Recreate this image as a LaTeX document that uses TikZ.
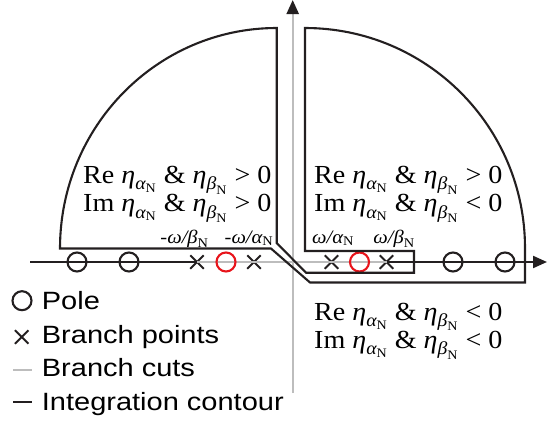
\documentclass[tikz,border=0pt]{standalone}
\usepackage{amsmath}
\usepackage{fontspec}
\setmainfont{Liberation Serif}[FakeStretch=1.08]
\setsansfont{Liberation Sans}[FakeStretch=1.16]
\usetikzlibrary{positioning, arrows.meta, shapes.misc, calc}
\definecolor{CutGray}{HTML}{BDBDBD}
\definecolor{PoleRed}{HTML}{E8141B}
\definecolor{InkBlack}{HTML}{231F20}
\newcommand{\etaA}{\text{\itshape η}_{\text{\itshape α}_{\text{N}}}}
\newcommand{\etaB}{\text{\itshape η}_{\text{\itshape β}_{\text{N}}}}
\newcommand{\bpLabel}[2]{$\text{#1\itshape ω/#2}_{\text{N}}$}

\begin{document}
\begin{tikzpicture}[x=1pt, y=-1pt,
    contour/.style={draw=InkBlack, line width=2.1pt, line join=miter},
    cutline/.style={draw=CutGray, line width=2.3pt},
    axisline/.style={draw=InkBlack, line width=2.1pt},
    pole/.style={circle, draw=InkBlack, line width=2.1pt, minimum size=19pt, inner sep=0pt},
    redpole/.style={pole, draw=PoleRed},
    branchpt/.style={cross out, draw=InkBlack, line width=2pt, minimum size=11.5pt, inner sep=0pt},
    region/.style={font=\fontsize{26}{28}\selectfont, inner sep=0pt, anchor=base west},
    bplabel/.style={font=\fontsize{19}{20}\selectfont, inner sep=0pt, anchor=base},
    legtext/.style={font=\sffamily\fontsize{25}{28}\selectfont, inner sep=0pt, anchor=base west}]
  \useasboundingbox (0,0) rectangle (547,421);
  % Axes
  \coordinate (reW) at (30,262);
  \coordinate (reE) at (547,262);
  \coordinate (imS) at (292.7,393);
  \coordinate (imN) at (292.7,0);
  \draw[cutline, -{Triangle[length=14pt, width=12pt, color=InkBlack]}] (imS) -- (imN);
  % Branch points
  \node[branchpt] (bpL2) at (197,262) {};
  \node[branchpt] (bpL1) at (254,262) {};
  \node[branchpt] (bpR1) at (331.5,262) {};
  \node[branchpt] (bpR2) at (386.5,262) {};
  \draw[axisline] (reW) -- (bpL2.center);
  \draw[cutline] (bpL2.center) -- (bpR2.center);
  \draw[axisline, -{Triangle[length=14pt, width=12pt]}] (bpR2.center) -- (reE);
  % Poles
  \node[pole] (pL2) at (77,262) {};
  \node[pole] (pL1) at (129,262) {};
  \node[pole] (pR1) at (453,262) {};
  \node[pole] (pR2) at (505,262) {};
  \node[redpole] (rpL) at (226,262) {};
  \node[redpole] (rpR) at (359.5,262) {};
  % Integration contour
  \draw[contour] (276.7,28) -- (276.7,243) -- (306,272.7) -- (414,272.7) -- (414,251)
    -- (305,251) -- (305,28) arc[start angle=90, end angle=0, radius=220pt]
    -- (525,282.5) -- (310,282.5) -- (271,248.5) -- (60,248.5)
    arc[start angle=180, end angle=90, x radius=216.7pt, y radius=220.5pt] -- cycle;
  % Branch point labels
  \node[bplabel] (lbL2) at (184.5,243) {\bpLabel{-}{β}};
  \node[bplabel] (lbL1) at (249,243) {\bpLabel{-}{α}};
  \node[bplabel] (lbR1) at (333,243) {\bpLabel{}{α}};
  \node[bplabel] (lbR2) at (394,243) {\bpLabel{}{β}};
  % Region labels
  \node[region] (reUL) at (83,183.3) {Re $\etaA$ \& $\etaB$ > 0};
  \node[region] (imUL) at (83,211.7) {Im $\etaA$ \& $\etaB$ > 0};
  \node[region] (reUR) at (314,183.3) {Re $\etaA$ \& $\etaB$ > 0};
  \node[region] (imUR) at (314,211.7) {Im $\etaA$ \& $\etaB$ < 0};
  \node[region] (reLR) at (314,320) {Re $\etaA$ \& $\etaB$ < 0};
  \node[region] (imLR) at (314,348.3) {Im $\etaA$ \& $\etaB$ < 0};
  % Legend
  \node[pole] (lgPoleSym) at (22,300.7) {};
  \node[legtext] (lgPole) at (41.7,309.3) {Pole};
  \node[branchpt] (lgBpSym) at (21.7,337) {};
  \node[legtext] (lgBp) at (41.7,343.3) {Branch points};
  \coordinate (lgCutA) at (13,370);
  \coordinate (lgCutB) at (31.7,370);
  \draw[cutline] (lgCutA) -- (lgCutB);
  \node[legtext] (lgCut) at (41.7,376.7) {Branch cuts};
  \coordinate (lgConA) at (13,402);
  \coordinate (lgConB) at (31.7,402);
  \draw[axisline] (lgConA) -- (lgConB);
  \node[legtext] (lgCon) at (41.7,410) {Integration contour};
\end{tikzpicture}
\end{document}
